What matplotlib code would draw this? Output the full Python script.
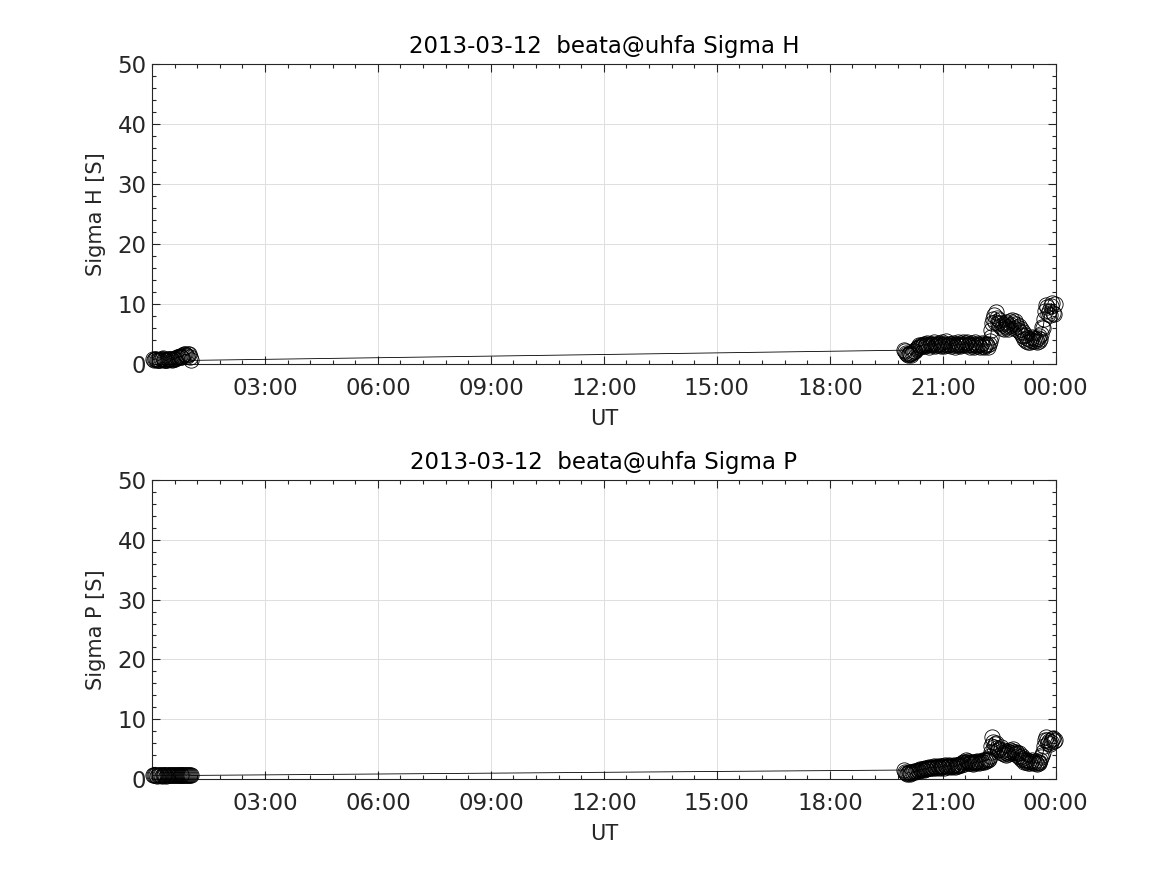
import numpy as np
import matplotlib
matplotlib.use("Agg")
import matplotlib.pyplot as plt
from matplotlib.ticker import MultipleLocator, FixedLocator

# ---- data (time in minutes after 00:00 UT, 2013-03-12) ----
early_min = [2.0, 3.5, 5.0, 6.5, 8.0, 9.5, 11.0, 12.5, 14.0, 15.5,
             17.0, 18.5, 20.0, 21.5, 23.0, 24.5, 26.0, 27.5, 29.0, 30.5,
             32.0, 33.5, 35.0, 36.5, 38.0, 39.5, 41.0, 42.5, 44.0, 45.5,
             47.0, 48.5, 50.0, 51.5, 53.0, 54.5, 56.0, 57.5, 59.0, 60.5,
             62.0]
early_sigma_h = [0.8, 0.7, 0.9, 0.8, 0.7, 0.6, 0.6, 0.7, 0.8, 0.9,
                 1.0, 0.8, 0.7, 0.6, 0.6, 0.7, 0.8, 0.9, 0.9, 0.8,
                 0.7, 0.8, 0.8, 0.9, 1.0, 1.1, 1.1, 1.2, 1.3, 1.2,
                 1.2, 1.4, 1.5, 1.6, 1.6, 1.5, 1.4, 1.6, 1.7, 1.2,
                 0.6]
early_sigma_p = [0.6, 0.6, 0.7, 0.6, 0.5, 0.6, 0.6, 0.7, 0.6, 0.5,
                 0.6, 0.7, 0.6, 0.6, 0.5, 0.6, 0.7, 0.6, 0.6, 0.7,
                 0.6, 0.6, 0.7, 0.6, 0.7, 0.6, 0.6, 0.7, 0.7, 0.6,
                 0.7, 0.7, 0.6, 0.7, 0.7, 0.6, 0.7, 0.7, 0.6, 0.7,
                 0.6]

late_min = [1198.0, 1199.5, 1201.0, 1202.5, 1204.0, 1205.5, 1207.0, 1208.5, 1210.0, 1211.5,
            1213.0, 1214.5, 1216.0, 1217.5, 1219.0, 1220.5, 1222.0, 1223.5, 1225.0, 1226.5,
            1228.0, 1229.5, 1231.0, 1232.5, 1234.0, 1235.5, 1237.0, 1238.5, 1240.0, 1241.5,
            1243.0, 1244.5, 1246.0, 1247.5, 1249.0, 1250.5, 1252.0, 1253.5, 1255.0, 1256.5,
            1258.0, 1259.5, 1261.0, 1262.5, 1264.0, 1265.5, 1267.0, 1268.5, 1270.0, 1271.5,
            1273.0, 1274.5, 1276.0, 1277.5, 1279.0, 1280.5, 1282.0, 1283.5, 1285.0, 1286.5,
            1288.0, 1289.5, 1291.0, 1292.5, 1294.0, 1295.5, 1297.0, 1298.5, 1300.0, 1301.5,
            1303.0, 1304.5, 1306.0, 1307.5, 1309.0, 1310.5, 1312.0, 1313.5, 1315.0, 1316.5,
            1318.0, 1319.5, 1321.0, 1322.5, 1324.0, 1325.5, 1327.0, 1328.5, 1330.0, 1331.5,
            1333.0, 1334.5, 1336.0, 1337.5, 1339.0, 1340.5, 1342.0, 1343.5, 1345.0, 1346.5,
            1348.0, 1349.5, 1351.0, 1352.5, 1354.0, 1355.5, 1357.0, 1358.5, 1360.0, 1361.5,
            1363.0, 1364.5, 1366.0, 1367.5, 1369.0, 1370.5, 1372.0, 1373.5, 1375.0, 1376.5,
            1378.0, 1379.5, 1381.0, 1382.5, 1384.0, 1385.5, 1387.0, 1388.5, 1390.0, 1391.5,
            1393.0, 1394.5, 1396.0, 1397.5, 1399.0, 1400.5, 1402.0, 1403.5, 1405.0, 1406.5,
            1408.0, 1409.5, 1411.0, 1412.5, 1414.0, 1415.5, 1417.0, 1418.5, 1420.0, 1421.5,
            1423.0, 1424.5, 1426.0, 1427.5, 1429.0, 1430.5, 1432.0, 1433.5, 1435.0, 1436.5,
            1438.0]
late_sigma_h = [2.3, 2.1, 1.8, 1.6, 1.5, 1.7, 1.9, 1.6, 1.5, 1.8,
                2.0, 2.2, 2.1, 2.5, 2.7, 2.9, 3.1, 2.8, 3.2, 3.0,
                3.2, 3.4, 3.0, 3.3, 3.1, 3.5, 3.2, 2.9, 3.3, 3.4,
                3.1, 3.3, 3.6, 3.0, 3.2, 3.4, 3.1, 3.5, 3.3, 3.0,
                3.2, 3.6, 3.3, 3.0, 3.4, 3.8, 3.2, 3.1, 3.4, 3.3,
                3.0, 3.3, 3.5, 3.2, 2.9, 3.3, 3.1, 3.4, 3.6, 3.2,
                3.0, 3.4, 3.2, 3.7, 3.3, 3.1, 3.5, 3.6, 3.2, 3.4,
                2.9, 3.2, 3.5, 3.1, 2.8, 3.3, 3.6, 3.2, 3.0, 3.4,
                3.1, 2.9, 3.3, 3.5, 3.0, 2.8, 3.2, 3.4, 3.1, 2.9,
                3.3, 3.8, 4.5, 5.6, 6.8, 7.5, 8.2, 7.0, 8.6, 7.6,
                6.8, 7.4, 6.3, 6.9, 6.0, 6.6, 5.8, 6.4, 7.0, 6.2,
                6.7, 5.9, 6.4, 7.1, 6.5, 7.3, 6.8, 6.0, 7.2, 6.6,
                6.1, 5.7, 6.3, 5.3, 5.9, 4.9, 5.4, 4.6, 4.2, 4.8,
                3.9, 4.4, 3.7, 4.2, 3.6, 4.0, 4.5, 3.8, 4.3, 3.9,
                4.1, 3.6, 4.4, 3.9, 4.6, 4.2, 5.0, 6.2, 6.0, 7.5,
                8.8, 9.9, 9.5, 8.4, 8.9, 8.2, 9.6, 10.1, 8.5, 8.3,
                10.0]
late_sigma_p = [1.5, 1.2, 1.0, 0.9, 1.0, 1.2, 1.1, 0.9, 1.0, 1.2,
                1.1, 1.3, 1.2, 1.4, 1.3, 1.5, 1.4, 1.6, 1.5, 1.7,
                1.6, 1.5, 1.8, 1.7, 1.6, 1.9, 1.8, 2.0, 1.8, 1.9,
                2.0, 1.9, 2.1, 2.0, 1.8, 2.0, 2.2, 2.0, 1.9, 2.1,
                2.0, 2.2, 2.1, 1.9, 2.3, 2.2, 2.0, 2.1, 2.3, 2.2,
                2.0, 2.2, 2.1, 2.3, 2.0, 2.2, 2.4, 2.3, 2.1, 2.4,
                2.5, 2.3, 2.6, 2.8, 2.5, 2.9, 3.1, 2.8, 3.0, 2.7,
                2.6, 2.8, 2.7, 2.5, 2.8, 2.9, 2.7, 2.8, 3.0, 2.8,
                2.7, 2.9, 3.0, 2.8, 3.1, 2.9, 3.2, 3.0, 3.3, 3.1,
                3.4, 3.8, 4.5, 5.5, 7.0, 6.2, 5.3, 5.8, 6.0, 5.2,
                4.8, 5.1, 4.6, 5.3, 4.4, 4.9, 4.2, 4.6, 4.0, 4.7,
                4.4, 4.1, 4.6, 4.9, 4.3, 4.7, 5.0, 4.5, 4.2, 4.6,
                4.3, 3.9, 4.4, 3.7, 3.4, 3.8, 3.1, 3.5, 2.9, 3.2,
                2.8, 3.1, 2.7, 3.0, 2.6, 2.9, 3.2, 2.8, 2.6, 3.0,
                2.7, 2.5, 2.9, 2.6, 2.8, 3.1, 3.6, 4.0, 4.5, 5.5,
                6.5, 7.0, 6.6, 6.0, 6.4, 5.8, 6.2, 6.7, 6.9, 6.3,
                6.5]

tick_hours = [3, 6, 9, 12, 15, 18, 21, 24]
tick_labels = ["03:00", "06:00", "09:00", "12:00", "15:00", "18:00", "21:00", "00:00"]

panels = [
    ("2013-03-12  beata@uhfa Sigma H", "Sigma H [S]", early_sigma_h, late_sigma_h),
    ("2013-03-12  beata@uhfa Sigma P", "Sigma P [S]", early_sigma_p, late_sigma_p),
]

plt.rcParams['font.family'] = ['DejaVu Sans']
fig = plt.figure(figsize=(11.67, 8.75), dpi=100)
fig.patch.set_facecolor('white')
positions = [[0.1302, 0.584, 0.7745, 0.3428], [0.1302, 0.1097, 0.7745, 0.3417]]
dark = (0.15, 0.15, 0.15)

for pos, (title, ylabel, e_vals, l_vals) in zip(positions, panels):
    ax = fig.add_axes(pos)
    t = np.array(early_min + late_min) / 60.0
    v = np.array(e_vals + l_vals)
    ax.plot(t, v, color='black', linewidth=0.6, marker='o', markersize=11,
            markerfacecolor='none', markeredgecolor='black', markeredgewidth=0.6,
            clip_on=False, zorder=3)
    ax.set_xlim(0, 24)
    ax.set_ylim(0, 50)
    ax.xaxis.set_major_locator(FixedLocator(tick_hours))
    ax.set_xticklabels(tick_labels)
    ax.xaxis.set_minor_locator(MultipleLocator(0.6))
    ax.yaxis.set_major_locator(MultipleLocator(10))
    ax.yaxis.set_minor_locator(MultipleLocator(2))
    ax.tick_params(which='both', direction='in', top=True, right=True, colors=dark,
                   labelcolor=dark, labelsize=16.5, width=0.8)
    ax.tick_params(axis='x', which='major', pad=9)
    ax.tick_params(axis='y', which='major', pad=4)
    ax.tick_params(which='major', length=6)
    ax.tick_params(which='minor', length=3)
    ax.grid(True, which='major', color=(0.87, 0.87, 0.87), linewidth=0.7)
    ax.set_axisbelow(True)
    for s in ax.spines.values():
        s.set_color(dark)
        s.set_linewidth(0.8)
    ax.set_title(title, fontsize=16.5, color='black', pad=8)
    ax.set_xlabel("UT", fontsize=15, color=dark, labelpad=6.5)
    ax.set_ylabel(ylabel, fontsize=15, color=dark, labelpad=8)

fig.savefig("out.png", dpi=100, facecolor='white')
